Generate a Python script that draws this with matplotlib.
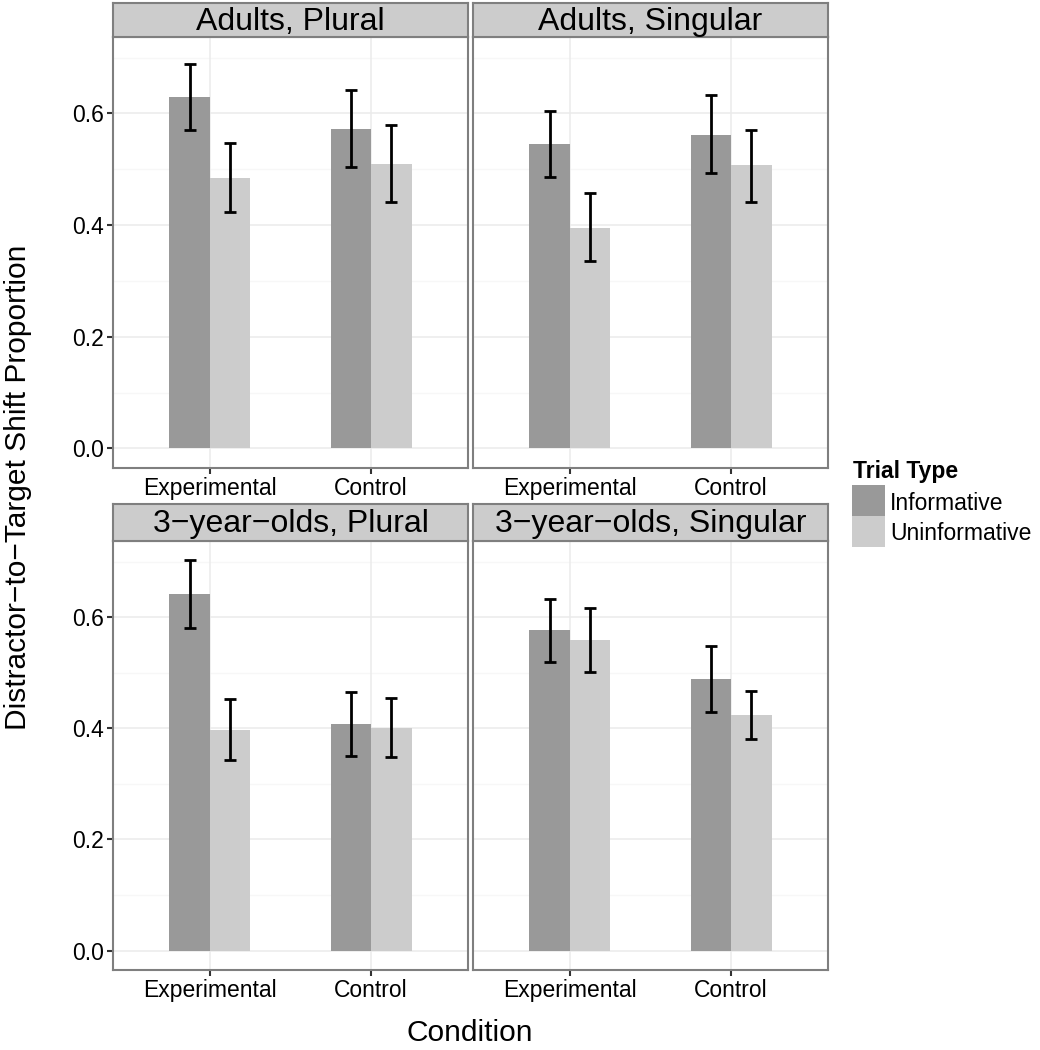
import matplotlib
matplotlib.use('Agg')
import matplotlib.pyplot as plt
from matplotlib.patches import Rectangle
import numpy as np

plt.rcParams['font.family'] = ['Liberation Sans', 'DejaVu Sans']

# ---------------- data ----------------
panels = ["Adults, Plural", "Adults, Singular",
          "3\u2212year\u2212olds, Plural", "3\u2212year\u2212olds, Singular"]
conditions = ["Experimental", "Control"]
trial_types = ["Informative", "Uninformative"]

informative_mean = [[0.629, 0.573], [0.545, 0.562], [0.641, 0.407], [0.576, 0.488]]
informative_lo = [[0.570, 0.505], [0.487, 0.493], [0.580, 0.350], [0.519, 0.430]]
informative_hi = [[0.688, 0.642], [0.605, 0.633], [0.702, 0.465], [0.633, 0.548]]

uninformative_mean = [[0.485, 0.510], [0.395, 0.507], [0.397, 0.401], [0.559, 0.423]]
uninformative_lo = [[0.423, 0.442], [0.336, 0.442], [0.343, 0.348], [0.502, 0.380]]
uninformative_hi = [[0.548, 0.579], [0.457, 0.571], [0.453, 0.455], [0.617, 0.467]]

y_ticks = [0.0, 0.2, 0.4, 0.6]
y_tick_labels = ["0.0", "0.2", "0.4", "0.6"]

colors = {"Informative": "#999999", "Uninformative": "#CCCCCC"}

# ---------------- layout ----------------
W, H = 1040, 1050
fig = plt.figure(figsize=(W / 100, H / 100), dpi=100)

def fx(px):
    return px / W

def fy(py):
    return 1 - py / H

col_x = [(113, 468), (473, 828)]
row_plot = [(37, 468), (541, 970)]
row_strip = [(3, 37), (504, 541)]

border_col = "#7F7F7F"
ylim = (-0.035, 0.737)
tick_fs = 16.5

series = [
    ("Informative", informative_mean, informative_lo, informative_hi, -0.125),
    ("Uninformative", uninformative_mean, uninformative_lo, uninformative_hi, 0.125),
]

xpos = np.arange(1, len(conditions) + 1)

for i, title in enumerate(panels):
    r, c = divmod(i, 2)
    x0, x1 = col_x[c]
    py0, py1 = row_plot[r]
    ax = fig.add_axes([fx(x0), fy(py1), fx(x1) - fx(x0), fy(py0) - fy(py1)])
    ax.set_xlim(0.4, 2.6)
    ax.set_ylim(*ylim)

    # grid
    for yv in [0.1, 0.3, 0.5, 0.7]:
        ax.axhline(yv, color="#F7F7F7", lw=0.9, zorder=0)
    for yv in y_ticks:
        ax.axhline(yv, color="#EBEBEB", lw=1.1, zorder=0)
    for xv in xpos:
        ax.axvline(xv, color="#EBEBEB", lw=1.1, zorder=0)

    for name, mean, lo, hi, off in series:
        m = np.array(mean[i])
        l = np.array(lo[i])
        h = np.array(hi[i])
        ax.bar(xpos + off, m, width=0.25, color=colors[name], zorder=2, linewidth=0)
        ax.errorbar(xpos + off, m, yerr=[m - l, h - m], fmt='none', ecolor='black',
                    elinewidth=2.0, capsize=4.2, capthick=2.0, zorder=3)

    ax.set_xticks(xpos)
    ax.set_xticklabels(conditions, fontsize=tick_fs, color="black")
    ax.set_yticks(y_ticks)
    ax.tick_params(axis='both', color="#333333", width=1.5, length=4.5, pad=2)
    if c == 0:
        ax.set_yticklabels(y_tick_labels, fontsize=tick_fs, color="black")
    else:
        ax.set_yticklabels([])
        ax.tick_params(axis='y', length=0)
    for sp in ax.spines.values():
        sp.set_color(border_col)
        sp.set_linewidth(1.5)
    ax.set_facecolor("white")

    # strip
    sy0, sy1 = row_strip[r]
    sax = fig.add_axes([fx(x0), fy(sy1), fx(x1) - fx(x0), fy(sy0) - fy(sy1)])
    sax.set_facecolor("#CCCCCC")
    sax.set_xticks([])
    sax.set_yticks([])
    for sp in sax.spines.values():
        sp.set_color(border_col)
        sp.set_linewidth(1.5)
    sax.text(0.5, 0.45, title, ha='center', va='center', fontsize=23,
             transform=sax.transAxes, color="black")

# axis titles
fig.text(fx(18), fy(487), "Distractor\u2212to\u2212Target Shift Proportion",
         rotation=90, ha='center', va='center', fontsize=21.5)
fig.text(fx(470), fy(1033), "Condition", ha='center', va='center', fontsize=21.5)

# legend (drawn as figure artists)
fig.text(fx(853), fy(478), "Trial Type", ha='left', va='baseline',
         fontsize=16.5, fontweight='bold')
key_top = [485, 516]
key_h = 31
for t, kt in zip(trial_types, key_top):
    fig.add_artist(Rectangle((fx(852), fy(kt + key_h)), fx(885) - fx(852),
                             fy(kt) - fy(kt + key_h), transform=fig.transFigure,
                             facecolor=colors[t], edgecolor='none'))
    fig.text(fx(890), fy(kt + key_h / 2), t, ha='left', va='center_baseline',
             fontsize=16.5)

fig.savefig("out.png", dpi=100)
